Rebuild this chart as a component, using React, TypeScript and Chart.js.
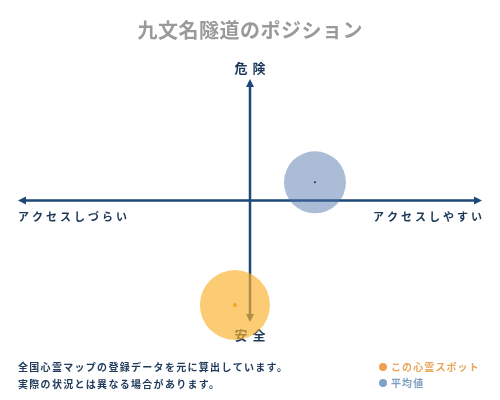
import { useEffect, useRef } from "react";
import { Chart, ScatterController, PointElement, LinearScale } from "chart.js";

Chart.register(ScatterController, PointElement, LinearScale);

// positions on the two axes: x = アクセス (しづらい -1 .. しやすい +1), y = 安全 -1 .. 危険 +1
const seriesNames = ["この心霊スポット", "平均値"];
const spotX = [-0.065];
const spotY = [-0.86];
const averageX = [0.28];
const averageY = [0.15];

const titleText = "九文名隧道のポジション";
const yAxisLabels = ["危険", "安全"];
const xAxisLabels = ["アクセスしづらい", "アクセスしやすい"];
const noteLines = [
    "全国心霊マップの登録データを元に算出しています。",
    "実際の状況とは異なる場合があります。",
];

const NAVY = "#1d4877";
const ORANGE_FILL = "rgba(251, 178, 45, 0.66)";
const BLUE_FILL = "rgba(74, 113, 168, 0.47)";
const FONT = '"Noto Sans CJK JP", "Noto Sans", sans-serif';

function arrowHead(ctx: CanvasRenderingContext2D, x: number, y: number, dx: number, dy: number) {
    const len = 8;
    const half = 4;
    ctx.beginPath();
    ctx.moveTo(x, y);
    ctx.lineTo(x - dx * len - dy * half, y - dy * len + dx * half);
    ctx.lineTo(x - dx * len + dy * half, y - dy * len - dx * half);
    ctx.closePath();
    ctx.fill();
}

function spacedText(
    ctx: CanvasRenderingContext2D,
    text: string,
    x: number,
    y: number,
    spacing: number,
    align: "left" | "right" | "center"
) {
    ctx.letterSpacing = spacing + "px";
    const w = ctx.measureText(text).width - spacing;
    let start = x;
    if (align === "center") start = x - w / 2;
    if (align === "right") start = x - w;
    ctx.textAlign = "left";
    ctx.fillText(text, start, y);
    ctx.letterSpacing = "0px";
}

const quadrantPlugin = {
    id: "quadrant",
    beforeDatasetsDraw(chart: Chart) {
        const { ctx, chartArea, scales } = chart;
        const x0 = scales.x.getPixelForValue(0);
        const y0 = scales.y.getPixelForValue(0);
        const { left, right, top, bottom } = chartArea;
        const W = chart.width;

        ctx.save();
        // title
        ctx.fillStyle = "#9a9a9a";
        ctx.font = "bold 20px " + FONT;
        ctx.textBaseline = "middle";
        spacedText(ctx, titleText, W / 2, 30, 0.5, "center");

        // cross axes
        ctx.strokeStyle = NAVY;
        ctx.fillStyle = NAVY;
        ctx.lineWidth = 2.5;
        ctx.beginPath();
        ctx.moveTo(left + 3, y0);
        ctx.lineTo(right - 3, y0);
        ctx.moveTo(x0, top + 3);
        ctx.lineTo(x0, bottom - 3);
        ctx.stroke();
        arrowHead(ctx, left, y0, -1, 0);
        arrowHead(ctx, right, y0, 1, 0);
        arrowHead(ctx, x0, top, 0, -1);
        arrowHead(ctx, x0, bottom, 0, 1);

        // axis labels
        ctx.fillStyle = "#1b3656";
        ctx.font = "bold 13px " + FONT;
        spacedText(ctx, yAxisLabels[0], x0, top - 11, 5, "center");
        spacedText(ctx, yAxisLabels[1], x0, bottom + 13, 5, "center");
        ctx.font = "bold 11px " + FONT;
        spacedText(ctx, xAxisLabels[0], left, y0 + 16, 3, "left");
        spacedText(ctx, xAxisLabels[1], right, y0 + 16, 3, "right");

        // notes
        ctx.font = "bold 10px " + FONT;
        ctx.fillStyle = "#1f3a5a";
        noteLines.forEach((line, i) => spacedText(ctx, line, 18, 367 + i * 17, 1.3, "left"));

        // legend
        const legendColors = ["#f0a050", "#7ea2c8"];
        const legendText = ["#e8a65a", "#7f9fc2"];
        seriesNames.forEach((name, i) => {
            const ly = 367 + i * 16;
            ctx.fillStyle = legendColors[i];
            ctx.beginPath();
            ctx.arc(383, ly, 4, 0, Math.PI * 2);
            ctx.fill();
            ctx.fillStyle = legendText[i];
            spacedText(ctx, name, 391, ly, 1.1, "left");
        });
        ctx.restore();
    },
};

export default function App() {
    const canvasRef = useRef<HTMLCanvasElement>(null);
    const chartRef = useRef<Chart | null>(null);

    useEffect(() => {
        if (!canvasRef.current) return;
        if (chartRef.current) chartRef.current.destroy();

        const spot = spotX.map((x, i) => ({ x, y: spotY[i] }));
        const average = averageX.map((x, i) => ({ x, y: averageY[i] }));

        chartRef.current = new Chart(canvasRef.current, {
            type: "scatter",
            data: {
                datasets: [
                    {
                        label: seriesNames[0] + " center",
                        data: spot,
                        pointRadius: 2,
                        pointBackgroundColor: "#f5a321",
                        pointBorderWidth: 0,
                        clip: false,
                        order: 1,
                    },
                    {
                        label: seriesNames[1] + " center",
                        data: average,
                        pointRadius: 1,
                        pointBackgroundColor: "#1b2e44",
                        pointBorderWidth: 0,
                        clip: false,
                        order: 1,
                    },
                    {
                        label: seriesNames[0],
                        data: spot,
                        pointRadius: 35,
                        pointBackgroundColor: ORANGE_FILL,
                        pointBorderWidth: 0,
                        clip: false,
                        order: 2,
                    },
                    {
                        label: seriesNames[1],
                        data: average,
                        pointRadius: 31,
                        pointBackgroundColor: BLUE_FILL,
                        pointBorderWidth: 0,
                        clip: false,
                        order: 2,
                    },
                ],
            },
            options: {
                animation: false,
                responsive: true,
                maintainAspectRatio: false,
                events: [],
                layout: {
                    autoPadding: false,
                    padding: { left: 18, right: 18, top: 79, bottom: 78 },
                },
                plugins: { legend: { display: false }, tooltip: { enabled: false } },
                scales: {
                    x: { type: "linear", min: -1, max: 1, display: false },
                    y: { type: "linear", min: -1, max: 1, display: false },
                },
            },
            plugins: [quadrantPlugin],
        });

        return () => {
            chartRef.current?.destroy();
            chartRef.current = null;
        };
    }, []);

    return (
        <div style={{ position: "fixed", left: 0, top: 0, width: "500px", height: "400px", background: "#fff" }}>
            <canvas
                ref={canvasRef}
                role="img"
                aria-label="九文名隧道のポジション: アクセスと危険度の散布図"
            />
        </div>
    );
}
